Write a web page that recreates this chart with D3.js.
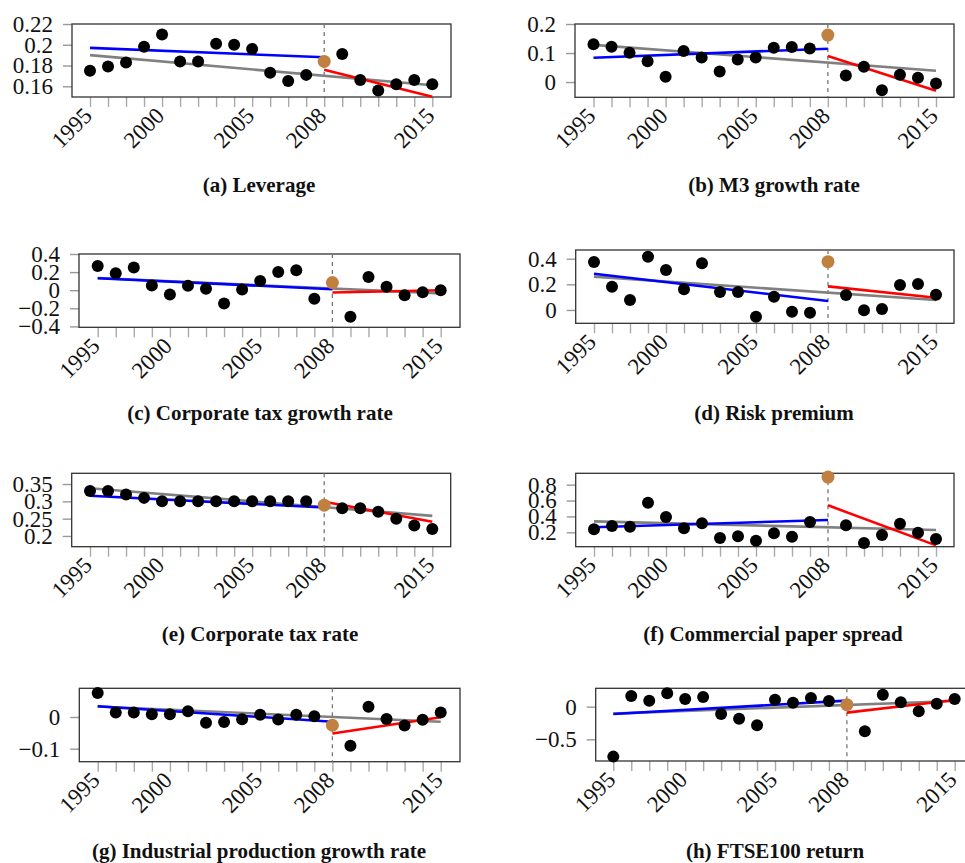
<!DOCTYPE html>
<html>
<head>
<meta charset="utf-8">
<script src="https://cdn.jsdelivr.net/npm/d3@7"></script>
<style>
  body { margin: 0; background: #fff; }
</style>
</head>
<body>
<script>
// 20 yearly observations, break marked at index 13 (2008)
var xTickIdx = [0, 4, 9, 13, 19]
var xTickLabels = ["1995", "2000", "2005", "2008", "2015"]
var breakIdx = 13

// series values
var leverage = [0.175,0.179,0.183,0.198,0.210,0.184,0.184,0.201,0.200,0.196,0.173,0.165,0.171,0.184,0.191,0.166,0.156,0.162,0.166,0.162]
var m3Growth = [0.130,0.122,0.101,0.072,0.018,0.107,0.085,0.036,0.078,0.085,0.118,0.121,0.116,0.162,0.023,0.053,-0.028,0.025,0.015,-0.005]
var corpTaxGrowth = [0.268,0.187,0.250,0.051,-0.048,0.048,0.015,-0.147,0.007,0.103,0.202,0.220,-0.095,0.084,-0.294,0.147,0.037,-0.055,-0.022,0.000]
var riskPremium = [0.374,0.182,0.078,0.416,0.312,0.161,0.364,0.140,0.140,-0.052,0.104,-0.013,-0.021,0.377,0.117,-0.003,0.008,0.195,0.203,0.119]
var corpTaxRate = [0.330,0.330,0.320,0.310,0.300,0.300,0.300,0.300,0.300,0.300,0.300,0.300,0.300,0.289,0.280,0.280,0.270,0.250,0.230,0.220]
var cpSpread = [0.238,0.280,0.271,0.573,0.393,0.250,0.313,0.129,0.150,0.095,0.187,0.145,0.330,0.896,0.288,0.066,0.166,0.309,0.196,0.116]
var indProdGrowth = [0.076,0.014,0.014,0.009,0.009,0.018,-0.018,-0.016,-0.007,0.007,-0.008,0.007,0.002,-0.026,-0.091,0.032,-0.006,-0.027,-0.009,0.014]
var ftseReturn = [-0.765,0.163,0.092,0.204,0.117,0.148,-0.112,-0.184,-0.286,0.107,0.061,0.133,0.087,0.031,-0.378,0.184,0.066,-0.071,0.046,0.117]

// trend lines: [start, end] values -> pre (0..13), post (13..19), full (0..19)
var leveragePre = [0.197, 0.188], leveragePost = [0.176, 0.150], leverageAll = [0.190, 0.161]
var m3Pre = [0.084, 0.115], m3Post = [0.090, -0.030], m3All = [0.128, 0.039]
var ctgPre = [0.132, 0.011], ctgPost = [-0.026, 0.000], ctgAll = [0.135, -0.035]
var riskPre = [0.283, 0.070], riskPost = [0.184, 0.096], riskAll = [0.260, 0.078]
var ctrPre = [0.316, 0.282], ctrPost = [0.299, 0.241], ctrAll = [0.338, 0.258]
var cpPre = [0.263, 0.355], cpPost = [0.540, 0.036], cpAll = [0.338, 0.229]
var ipPre = [0.034, -0.015], ipPost = [-0.052, -0.001], ipAll = [0.033, -0.015]
var ftsePre = [-0.112, 0.092], ftsePost = [-0.092, 0.102], ftseAll = [-0.107, 0.087]

// y axis ticks
var leverageTicks = [0.16, 0.18, 0.2, 0.22]
var m3Ticks = [0, 0.1, 0.2]
var ctgTicks = [-0.4, -0.2, 0, 0.2, 0.4]
var riskTicks = [0, 0.2, 0.4]
var ctrTicks = [0.2, 0.25, 0.3, 0.35]
var cpTicks = [0.2, 0.4, 0.6, 0.8]
var ipTicks = [-0.1, 0]
var ftseTicks = [-0.5, 0]

var panels = [
  {title: "(a) Leverage", v: leverage, pre: leveragePre, post: leveragePost, all: leverageAll, ticks: leverageTicks, dom: [0.1497, 0.22],
   L: 72, R: 451, T: 24, B: 97, x0: 90, x19: 432.3, cx: 259, cy: 192},
  {title: "(b) M3 growth rate", v: m3Growth, pre: m3Pre, post: m3Post, all: m3All, ticks: m3Ticks, dom: [-0.0525, 0.2],
   L: 575, R: 954, T: 24, B: 97.3, x0: 593.5, x19: 936, cx: 774, cy: 192},
  {title: "(c) Corporate tax growth rate", v: corpTaxGrowth, pre: ctgPre, post: ctgPost, all: ctgAll, ticks: ctgTicks, dom: [-0.41, 0.4],
   L: 79, R: 460, T: 254, B: 327.3, x0: 97.7, x19: 440.7, cx: 260, cy: 420},
  {title: "(d) Risk premium", v: riskPremium, pre: riskPre, post: riskPost, all: riskAll, ticks: riskTicks, dom: [-0.104, 0.468],
   L: 575.7, R: 954, T: 250, B: 323.3, x0: 594, x19: 936, cx: 774, cy: 420},
  {title: "(e) Corporate tax rate", v: corpTaxRate, pre: ctrPre, post: ctrPost, all: ctrAll, ticks: ctrTicks, dom: [0.169, 0.381],
   L: 71.7, R: 450.7, T: 473.3, B: 546.7, x0: 90, x19: 432.3, cx: 260, cy: 641},
  {title: "(f) Commercial paper spread", v: cpSpread, pre: cpPre, post: cpPost, all: cpAll, ticks: cpTicks, dom: [0.019, 0.943],
   L: 575.7, R: 954, T: 473.3, B: 546.7, x0: 594, x19: 936, cx: 773, cy: 641},
  {title: "(g) Industrial production growth rate", v: indProdGrowth, pre: ipPre, post: ipPost, all: ipAll, ticks: ipTicks, dom: [-0.141, 0.0905],
   L: 79.3, R: 460, T: 688.3, B: 761.7, x0: 97.7, x19: 440.7, cx: 259, cy: 858},
  {title: "(h) FTSE100 return", v: ftseReturn, pre: ftsePre, post: ftsePost, all: ftseAll, ticks: ftseTicks, dom: [-0.832, 0.281],
   L: 595.7, R: 975, T: 688.3, B: 761, x0: 613.3, x19: 954.7, cx: 775, cy: 858}
]

var serif = "'Liberation Serif', 'Times New Roman', serif"

var svg = d3.select("body").append("svg")
  .attr("width", 965)
  .attr("height", 863)
  .style("font-family", serif)

function fmt(v) {
  return (v < 0 ? "\u2212" : "") + Math.abs(v)
}

panels.forEach(function(p) {
  var x = d3.scaleLinear().domain([0, 19]).range([p.x0, p.x19])
  var y = d3.scaleLinear().domain(p.dom).range([p.B, p.T])
  var g = svg.append("g")

  // y axis
  var ya = g.append("g")
    .attr("transform", "translate(" + p.L + ",0)")
    .call(d3.axisLeft(y).tickValues(p.ticks).tickSize(9).tickPadding(10).tickFormat(fmt))
  ya.attr("font-family", null).attr("font-size", null)
  ya.select(".domain").remove()
  ya.selectAll("line").attr("stroke", "#999").attr("stroke-width", 1.4)
  ya.selectAll("text")
    .style("font-family", serif).style("font-size", "23px").attr("fill", "#111")

  // x axis, one tick per year
  var xa = g.append("g")
    .attr("transform", "translate(0," + p.B + ")")
    .call(d3.axisBottom(x).tickValues(d3.range(20)).tickSize(10)
      .tickFormat(function(i) { var k = xTickIdx.indexOf(i); return k < 0 ? "" : xTickLabels[k] }))
  xa.attr("font-family", null).attr("font-size", null)
  xa.select(".domain").remove()
  xa.selectAll("line").attr("stroke", "#aaa").attr("stroke-width", 1.4)
  xa.selectAll("text")
    .attr("y", null).attr("dy", null)
    .attr("text-anchor", "end")
    .attr("transform", "translate(3,20) rotate(-45)")
    .style("font-family", serif).style("font-size", "23px").attr("fill", "#111")

  // frame
  g.append("rect")
    .attr("x", p.L).attr("y", p.T)
    .attr("width", p.R - p.L).attr("height", p.B - p.T)
    .attr("fill", "none").attr("stroke", "#333").attr("stroke-width", 1.3)

  // break line
  g.append("line")
    .attr("x1", x(breakIdx)).attr("x2", x(breakIdx))
    .attr("y1", p.T).attr("y2", p.B)
    .attr("stroke", "#777").attr("stroke-width", 1.3)
    .attr("stroke-dasharray", "4,4")

  var trends = [
    {d: p.all, a: 0, b: 19, c: "#808080"},
    {d: p.pre, a: 0, b: breakIdx, c: "#0000ff"},
    {d: p.post, a: breakIdx, b: 19, c: "#ff0000"}
  ]
  g.selectAll(".trend").data(trends).enter().append("line")
    .attr("class", "trend")
    .attr("x1", function(t) { return x(t.a) })
    .attr("x2", function(t) { return x(t.b) })
    .attr("y1", function(t) { return y(t.d[0]) })
    .attr("y2", function(t) { return y(t.d[1]) })
    .attr("stroke", function(t) { return t.c })
    .attr("stroke-width", 2.6)

  g.selectAll(".pt").data(p.v).enter().append("circle")
    .attr("class", "pt")
    .attr("cx", function(d, i) { return x(i) })
    .attr("cy", function(d) { return y(d) })
    .attr("r", function(d, i) { return i == breakIdx ? 6.5 : 6 })
    .attr("fill", function(d, i) { return i == breakIdx ? "#bf8040" : "#000" })

  g.append("text")
    .attr("x", p.cx).attr("y", p.cy)
    .attr("text-anchor", "middle")
    .style("font-family", serif)
    .style("font-size", "21px").style("font-weight", "bold")
    .attr("fill", "#111")
    .text(p.title)
})
</script>
</body>
</html>
